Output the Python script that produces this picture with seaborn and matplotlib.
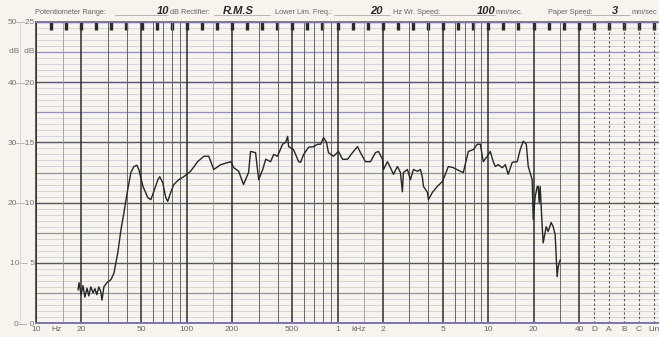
import numpy as np
import pandas as pd
import seaborn as sns
import matplotlib.pyplot as plt
from matplotlib.lines import Line2D
from matplotlib.ticker import FixedLocator, NullFormatter

# frequency response
freq_hz = [19.0, 19.3, 19.9, 20.5, 21.1, 21.8, 22.4, 23.1, 23.9, 24.6, 25.3, 26.1, 26.9, 27.4,
           28.2, 29.5, 31.4, 32.9, 34.9, 36.6, 38.3, 40.6, 42.6, 44.6, 46.7, 48.1, 51.2, 55.2,
           57.8, 60.4, 64.3, 66.2, 69.3, 72.6, 74.8, 78.3, 82.0, 88.5, 95.5, 106, 118, 130,
           140, 151, 168, 196, 205, 221, 238, 257, 265, 286, 300, 319, 334, 360, 377, 400,
           432, 453, 467, 474, 511, 552, 569, 596, 643, 694, 738, 772, 808, 845, 871, 941,
           1015, 1080, 1165, 1257, 1357, 1420, 1532, 1655, 1786, 1871, 1988, 2018, 2144, 2244,
           2350, 2497, 2614, 2694, 2736, 2909, 3044, 3187, 3388, 3548, 3656, 3715, 3947, 4009,
           4260, 4596, 4959, 5189, 5433, 5862, 6528, 6830, 7376, 7960, 8457, 8852, 9268, 9848,
           10310, 10790, 11120, 11640, 12380, 12970, 13560, 14420, 15560, 16290, 17060, 17870,
           18410, 19560, 19860, 20480, 21130, 21440, 21770, 22090, 22790, 23130, 24210, 24950,
           26130, 26930, 27770, 28640, 29080, 29990]
level_db = [5.5, 6.7, 4.7, 6.2, 4.3, 5.8, 4.5, 6.0, 5.0, 5.7, 4.7, 6.0, 5.2, 3.8,
            6.0, 6.7, 7.2, 8.3, 11.7, 15.5, 18.3, 22.2, 25.0, 26.0, 26.2, 25.5, 22.7, 20.8,
            20.5, 21.8, 23.8, 24.3, 23.3, 20.8, 20.2, 21.7, 23.0, 23.8, 24.3, 25.2, 26.8, 27.7,
            27.7, 25.5, 26.3, 26.8, 25.8, 25.2, 23.0, 25.0, 28.5, 28.3, 23.8, 25.5, 27.2, 26.8,
            28.0, 27.7, 29.7, 30.0, 31.0, 29.3, 28.8, 26.8, 26.7, 28.0, 29.2, 29.3, 29.7, 29.7,
            30.8, 30.0, 28.3, 27.7, 28.5, 27.2, 27.2, 28.3, 29.3, 28.3, 26.8, 26.8, 28.3, 28.5,
            27.2, 25.5, 26.8, 25.8, 24.7, 26.0, 25.0, 21.8, 25.0, 25.5, 23.8, 25.5, 25.2, 25.5,
            24.2, 22.7, 21.7, 20.5, 21.7, 22.7, 23.5, 24.7, 26.0, 25.8, 25.2, 25.0, 28.5, 28.8,
            29.7, 29.7, 26.8, 27.7, 28.5, 26.8, 26.0, 26.3, 25.8, 26.3, 24.7, 26.7, 26.8, 28.8,
            30.2, 29.7, 26.0, 23.8, 17.2, 21.0, 22.7, 22.7, 20.0, 22.7, 16.0, 13.3, 16.0, 15.2,
            16.7, 16.0, 14.7, 7.7, 9.3, 10.5]

# paper printing
x_labels = ["10", "Hz", "20", "50", "100", "200", "500", "1", "kHz", "2", "5", "10", "20",
            "40", "D", "A", "B", "C", "Lin"]
x_label_pos = [10, 13.6, 20, 50, 100, 200, 500, 1000, 1380, 2000, 5000, 10000, 20000,
               40000, 50300, 63300, 79600, 100000, 125700]
weighting_pos = [50300, 63300, 79600, 100000, 125700]
y_label_pos = [0, 10, 20, 30, 40, 45.2, 50]
y_labels = ["0\u2014 0", "10\u2014 5", "20\u201410", "30\u201415", "40\u201420", "dB  dB", "50\u201425"]

PAPER = "#f6f4ec"
INK = "#262626"

sns.set_theme(style="white")
plt.rcParams["font.family"] = ["Liberation Sans", "DejaVu Sans"]

fig = plt.figure(figsize=(6.59, 3.37), dpi=100, facecolor=PAPER)
ax = fig.add_axes([36 / 659, 14 / 337, 623 / 659, 301 / 337])
ax.set_facecolor(PAPER)
ax.set_xscale("log")
ax.set_xlim(10, 10 ** (1 + 624 / 151))
ax.set_ylim(0, 50)

# horizontal grid: 1 dB light, 5 dB lavender, 10 dB dark
for d in range(0, 51):
    if d % 10 == 0:
        ax.axhline(d, color="#57536e", lw=1.0, zorder=1)
    elif d % 5 == 0:
        ax.axhline(d, color="#9590bd", lw=0.9, zorder=1)
    else:
        ax.axhline(d, color="#d2cedc", lw=0.6, zorder=0)

# vertical grid up to 40 kHz
for dec in [10, 100, 1000, 10000]:
    for m in [1, 1.5, 2, 3, 4, 5, 6, 7, 8, 9]:
        f = m * dec
        if f > 40000:
            continue
        if m in (1, 2, 5) or f == 40000:
            ax.axvline(f, color="#2e2e2e", lw=1.1, zorder=1)
        elif m == 1.5:
            ax.axvline(f, color="#9a9a9a", lw=0.6, zorder=1)
        else:
            ax.axvline(f, color="#666666", lw=0.7, zorder=1)
for f in weighting_pos:
    ax.axvline(f, color="#555555", lw=0.8, ls=(0, (2, 2)), zorder=1)

df = pd.DataFrame({"freq": freq_hz, "level": level_db})
sns.lineplot(data=df, x="freq", y="level", sort=False, estimator=None, ax=ax,
             color=INK, lw=1.0, zorder=3)

# ticks: third-octave marks along the top edge
third_octave = [10 ** (1 + k / 10) for k in range(1, 42)]
ax.xaxis.remove_overlapping_locs = False
ax.xaxis.set_major_locator(FixedLocator(x_label_pos))
ax.set_xticklabels(x_labels)
ax.xaxis.set_minor_locator(FixedLocator(third_octave))
ax.xaxis.set_minor_formatter(NullFormatter())
ax.tick_params(axis="x", which="major", length=0, pad=2, labelsize=6, labelcolor="#666666")
ax.tick_params(axis="x", which="minor", top=True, bottom=False, direction="in",
               length=6, width=2.4, color="#2a2a2a")
ax.set_yticks(y_label_pos)
ax.set_yticklabels(y_labels)
ax.tick_params(axis="y", length=0, pad=1, labelsize=6, labelcolor="#777777")
ax.set_xlabel("")
ax.set_ylabel("")

for s in ["top", "bottom"]:
    ax.spines[s].set_color("#7c74b0")
    ax.spines[s].set_linewidth(1.4)
ax.spines["left"].set_color("#2e2e2e")
ax.spines["left"].set_linewidth(1.1)
ax.spines["right"].set_visible(False)

# margin guide line
fig.add_artist(Line2D([20 / 659, 20 / 659], [14 / 337, 315 / 337], color="#d6d3d8", lw=0.6))

# header form
hy = 1 - 14 / 337
small = dict(fontsize=5.3, color="#666666", va="baseline", ha="left")
hand = dict(fontsize=8, color="#2a2a2a", va="baseline", ha="left",
            fontweight="bold", fontstyle="italic")
fig.text(35 / 659, hy, "Potentiometer Range:", **small)
fig.text(157 / 659, hy, "10", **hand)
fig.text(170 / 659, hy, "dB Rectifier:", **small)
fig.text(223 / 659, hy, "R.M.S", **hand)
fig.text(275 / 659, hy, "Lower Lim. Freq.:", **small)
fig.text(370 / 659, hy, "20", **hand)
fig.text(393 / 659, hy, "Hz Wr. Speed:", **small)
fig.text(477 / 659, hy, "100", **hand)
fig.text(496 / 659, hy, "mm/sec.", **small)
fig.text(548 / 659, hy, "Paper Speed:", **small)
fig.text(612 / 659, hy, "3", **hand)
fig.text(632 / 659, hy, "mm/sec", **small)
for x0, x1 in [(115, 168), (214, 270), (334, 390), (430, 495), (584, 630)]:
    fig.add_artist(Line2D([x0 / 659, x1 / 659], [hy - 1 / 337, hy - 1 / 337],
                          color="#9a9a9a", lw=0.5))

fig.savefig("out.png", dpi=100, facecolor=PAPER)
